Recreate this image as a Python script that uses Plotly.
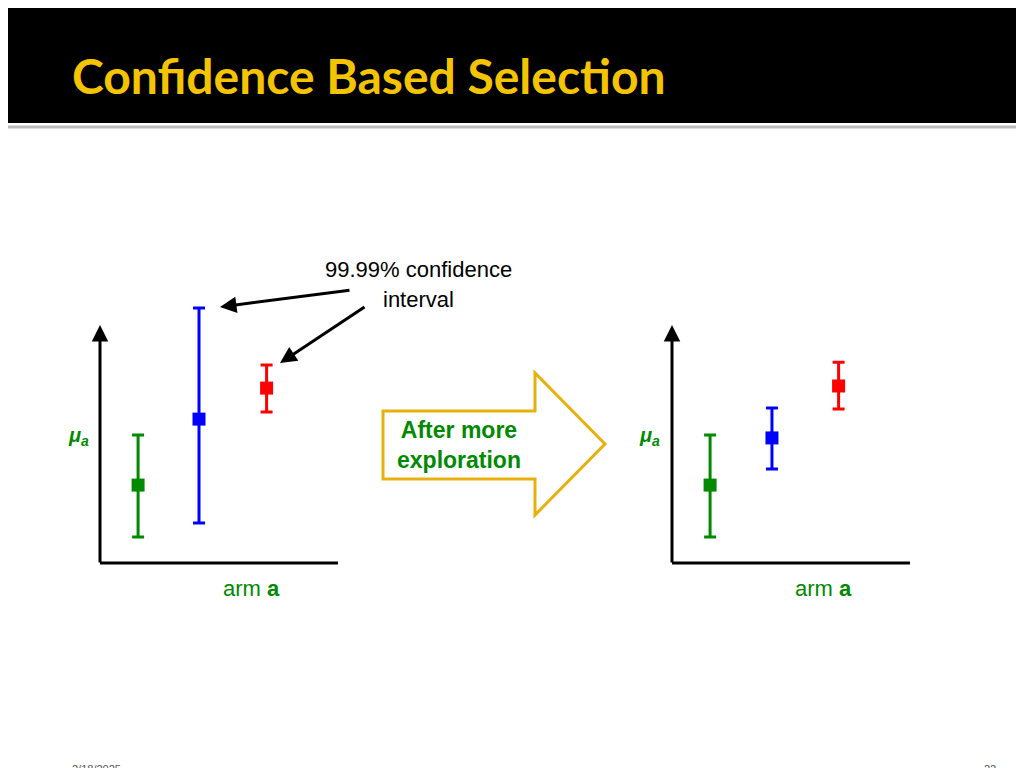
import plotly.graph_objects as go

W, H = 1024, 768

# data (axis units: x 0-10, y 0-10)
arm_x = [1.6, 4.16, 7.0]
colors = ["#008A00", "#0000FF", "#FF0000"]

before_mean = [2.94, 5.43, 6.60]
before_top = [4.83, 9.62, 7.47]
before_bottom = [0.98, 1.51, 5.70]

after_x = [1.6, 4.2, 7.0]
after_mean = [2.94, 4.72, 6.68]
after_top = [4.83, 5.85, 7.58]
after_bottom = [0.98, 3.55, 5.81]


def px(x):
    return x / W


def py(y):
    return 1 - y / H


fig = go.Figure()

panels = [("x", "y", arm_x, before_mean, before_top, before_bottom),
          ("x2", "y2", after_x, after_mean, after_top, after_bottom)]
for xa, ya, xs, m, top, bot in panels:
    for i in range(3):
        fig.add_trace(go.Scatter(
            x=[xs[i]], y=[m[i]], mode="markers", xaxis=xa, yaxis=ya,
            marker=dict(symbol="square", size=13, color=colors[i]),
            error_y=dict(type="data", symmetric=False,
                         array=[top[i] - m[i]], arrayminus=[m[i] - bot[i]],
                         color=colors[i], thickness=3, width=6),
            showlegend=False, hoverinfo="skip"))

axis_common = dict(range=[0, 10], showgrid=False, zeroline=False,
                   showticklabels=False, showline=False)
fig.update_layout(
    width=W, height=H, margin=dict(l=0, r=0, t=0, b=0),
    plot_bgcolor="white", paper_bgcolor="white",
    xaxis=dict(domain=[px(92), px(330)], **axis_common),
    yaxis=dict(domain=[py(555), py(290)], **axis_common),
    xaxis2=dict(domain=[px(664), px(902)], anchor="y2", **axis_common),
    yaxis2=dict(domain=[py(555), py(290)], anchor="x2", **axis_common),
)

shapes = [
    dict(type="rect", xref="paper", yref="paper", x0=0, x1=1, y0=py(115), y1=1,
         fillcolor="black", line=dict(width=0)),
    dict(type="line", xref="paper", yref="paper", x0=0, x1=1, y0=py(119), y1=py(119),
         line=dict(color="#BBBBBB", width=3)),
]
for x0, x1 in [(92, 330), (664, 902)]:
    shapes.append(dict(type="line", xref="paper", yref="paper", x0=px(x0), x1=px(x1),
                       y0=py(555), y1=py(555), line=dict(color="black", width=3)))

# hollow block arrow
path = "M {} {} L {} {} L {} {} L {} {} L {} {} L {} {} L {} {} Z".format(
    px(375), py(403), px(527), py(403), px(527), py(365), px(597), py(436),
    px(527), py(507), px(527), py(471), px(375), py(471))
shapes.append(dict(type="path", xref="paper", yref="paper", path=path,
                   fillcolor="white", line=dict(color="#E8B00C", width=3)))
fig.update_layout(shapes=shapes)

ann = []


def text(x, y, s, size, color="black", family="Liberation Sans", xanchor="center"):
    ann.append(dict(x=px(x), y=py(y), xref="paper", yref="paper", text=s,
                    showarrow=False, xanchor=xanchor, yanchor="middle",
                    font=dict(size=size, color=color, family=family)))


def arrow(x0, y0, x1, y1):
    ann.append(dict(x=px(x1), y=py(y1), ax=x0 - x1, ay=y0 - y1, xref="paper", yref="paper",
                    axref="pixel", ayref="pixel", text="", showarrow=True,
                    arrowhead=2, arrowsize=1.1, arrowwidth=3, arrowcolor="black"))


text(62, 68, "<b>Confidence Based Selection</b>", 48, "#F5C400", "Lato", "left")
text(410, 261, "99.99% confidence", 22)
text(410, 291, "interval", 22)
arrow(343, 282, 212, 299)
arrow(358, 298, 272, 355)
for x0 in [92, 664]:
    arrow(x0, 556, x0, 317)
text(70, 428, "<b><i>μ<sub>a</sub></i></b>", 20, "#008A00")
text(641, 428, "<b><i>μ<sub>a</sub></i></b>", 20, "#008A00")
text(243, 580, "arm <b>a</b>", 22, "#008A00")
text(815, 580, "arm <b>a</b>", 22, "#008A00")
text(387, 437, "<b>After more<br>exploration</b>", 23, "#008A00", xanchor="left")
text(62, 761, "2/18/2025", 11, "#555555", xanchor="left")
text(990, 761, "22", 11, "#555555", xanchor="right")
fig.update_layout(annotations=ann)

fig.write_html("out.html")
